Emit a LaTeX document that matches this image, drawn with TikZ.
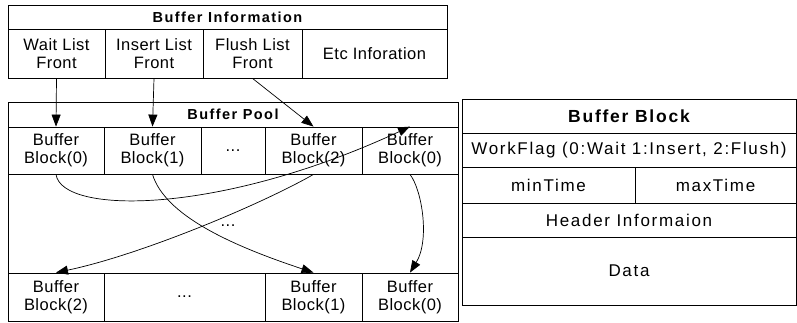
\documentclass[tikz,border=0pt]{standalone}
\usepackage{fontspec}
\setmainfont{Liberation Sans}[LetterSpace=3]
\newfontfamily\widefont{Liberation Sans}[LetterSpace=10]
\usetikzlibrary{arrows.meta}

\begin{document}
\begin{tikzpicture}[x=1pt,y=-1pt,
    cell/.style ={rectangle, draw, line width=0.8pt, inner sep=0pt, align=center,
      font=\fontsize{16.5}{18}\selectfont},
    field/.style ={cell, font=\widefont\fontsize{17}{18}\selectfont},
    title/.style ={cell, font=\widefont\fontsize{14.5}{17}\selectfont\bfseries},
    plain/.style ={inner sep=0pt, font=\fontsize{16.5}{18}\selectfont},
    link/.style ={line width=0.7pt, -{Triangle[length=12pt,width=9pt]}}]
   \useasboundingbox (0,0) rectangle (797,322);
   % buffer information
   \node[title, minimum width=439, minimum height=24] (info) at (227.5,17) {Buffer Information};
   \node[cell, minimum width=97, minimum height=49] (wait) at (56.5,53.5) {Wait List\\Front};
   \node[cell, minimum width=98, minimum height=49] (insert) at (154,53.5) {Insert List\\Front};
   \node[cell, minimum width=99, minimum height=49] (flush) at (252.5,53.5) {Flush List\\Front};
   \node[cell, minimum width=145, minimum height=49] (etc) at (374.5,53.5) {Etc Inforation};
   % buffer pool
   \node[cell, minimum width=450, minimum height=219] (pool) at (233,211.5) {};
   \node[title, minimum width=450, minimum height=25] (pooltitle) at (233,114.5) {Buffer Pool};
   \node[cell, minimum width=96, minimum height=47] (top0) at (56,150.5) {Buffer\\Block(0)};
   \node[cell, minimum width=97, minimum height=47] (top1) at (152.5,150.5) {Buffer\\Block(1)};
   \node[cell, minimum width=64, minimum height=47] (topdots) at (233,150.5) {...};
   \node[cell, minimum width=97, minimum height=47] (top2) at (313.5,150.5) {Buffer\\Block(2)};
   \node[cell, minimum width=96, minimum height=47] (topn) at (410,150.5) {Buffer\\Block(0)};
   \node[plain] (middots) at (228,226) {...};
   \node[cell, minimum width=96, minimum height=48] (bot2) at (56,297) {Buffer\\Block(2)};
   \node[cell, minimum width=161, minimum height=48] (botdots) at (184.5,297) {...};
   \node[cell, minimum width=97, minimum height=48] (bot1) at (313.5,297) {Buffer\\Block(1)};
   \node[cell, minimum width=96, minimum height=48] (bot0) at (410,297) {Buffer\\Block(0)};
   % buffer block
   \node[field, minimum width=334, minimum height=34, font=\widefont\fontsize{17.5}{20}\selectfont\bfseries] (block) at (629,116) {Buffer Block};
   \node[field, minimum width=334, minimum height=34] (flag) at (629,150) {WorkFlag (0:Wait 1:Insert, 2:Flush)};
   \node[field, minimum width=173, minimum height=36] (mintime) at (548.5,185) {minTime};
   \node[field, minimum width=161, minimum height=36] (maxtime) at (715.5,185) {maxTime};
   \node[field, minimum width=334, minimum height=34] (header) at (629,220) {Header Informaion};
   \node[field, minimum width=334, minimum height=68] (data) at (629,271) {Data};
   % list fronts
   \draw[link] (wait.south) -- (top0.north);
   \draw[link] (insert.south) -- (top1.north);
   \draw[link] (flush.south) -- (top2.north);
   % block moves
   \draw[link] (top0.south) .. controls (62,215) and (220,215) .. (topn.north);
   \draw[link] (top1.south) .. controls (165,215) and (230,245) .. (bot1.north);
   \draw[link] (top2.south) .. controls (260,205) and (140,255) .. (bot2.north);
   \draw[link] (topn.south) .. controls (422,190) and (430,240) .. (bot0.north);
 \end{tikzpicture}
\end{document}
